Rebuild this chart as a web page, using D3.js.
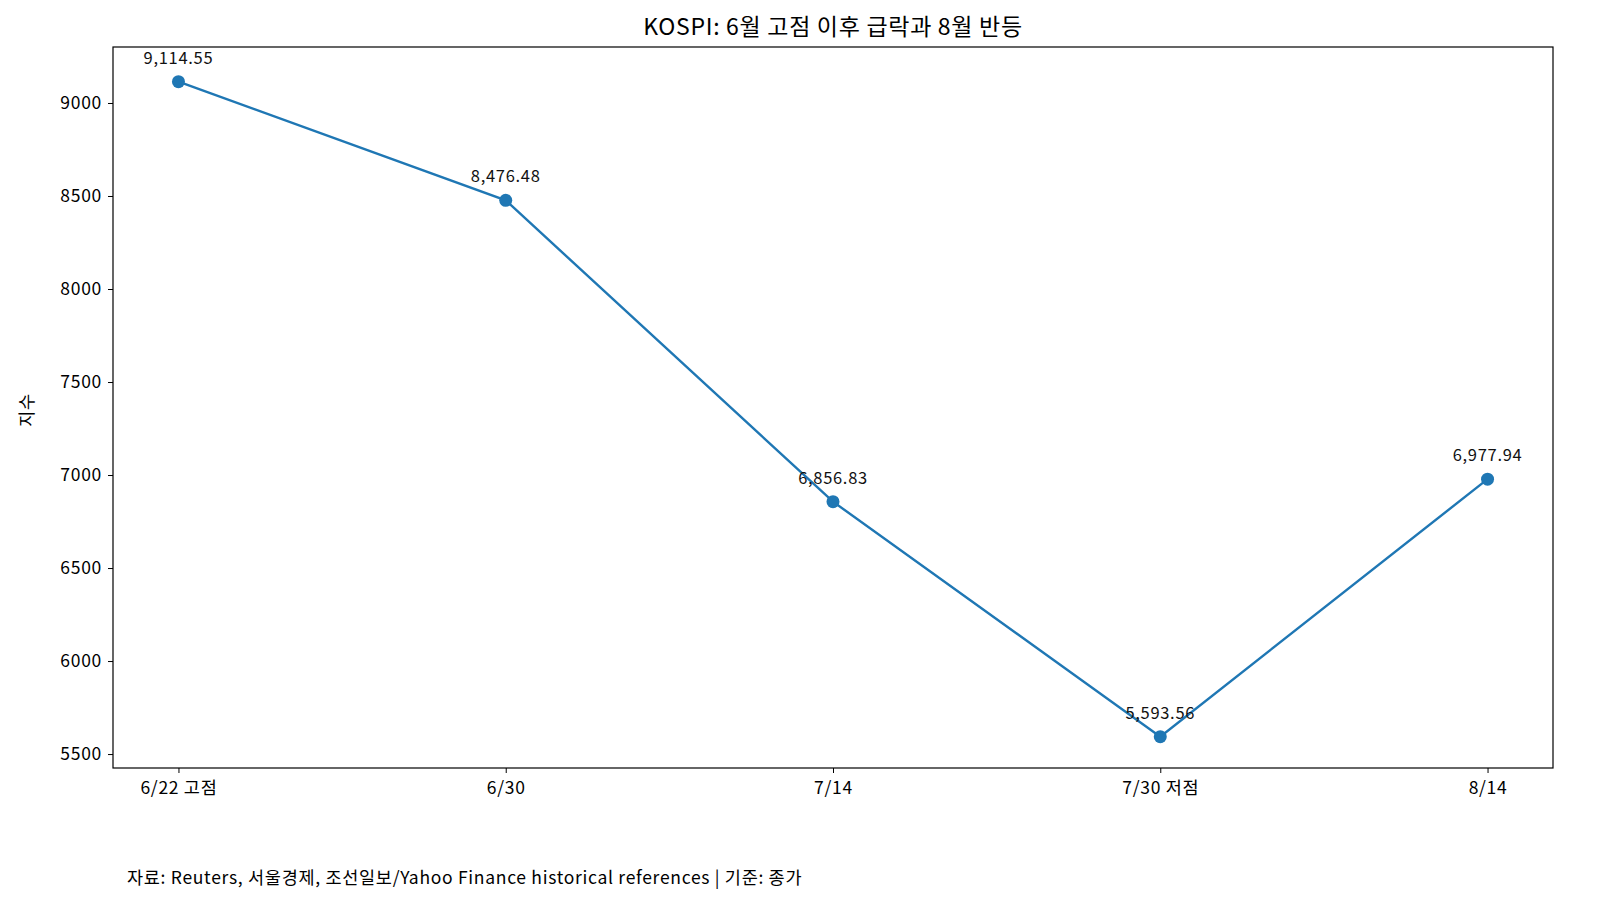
<!DOCTYPE html>
<html><head><meta charset="utf-8">
<script src="https://cdn.jsdelivr.net/npm/d3@7"></script>
<style>html,body{margin:0;background:#fff;overflow:hidden}svg{display:block}text{font-family:"Noto Sans CJK KR","Noto Sans",sans-serif;letter-spacing:0.7px}</style>
</head><body><svg id="c" width="1600" height="922"></svg>
<script>
const categories=["6/22 고점","6/30","7/14","7/30 저점","8/14"];
const values=[9114.55,8476.48,6856.83,5593.56,6977.94];
const yTicks=[5500,6000,6500,7000,7500,8000,8500,9000];
const svg=d3.select("#c");
const L=113,R=1553,T=47,B=768;
const x=d3.scaleLinear().domain([-0.2,4.2]).range([L,R]);
const y=d3.scaleLinear().domain([5425,9301]).range([B,T]);
const c="#1f77b4";
svg.append("rect").attr("x",L).attr("y",T).attr("width",R-L).attr("height",B-T).attr("fill","none").attr("stroke","#000").attr("stroke-width",1.2);
const xa=svg.append("g").attr("transform",`translate(0,${B})`).call(d3.axisBottom(x).tickValues(d3.range(5)).tickFormat(i=>categories[i]).tickSize(5).tickPadding(9));
const ya=svg.append("g").attr("transform",`translate(${L},0)`).call(d3.axisLeft(y).tickValues(yTicks).tickFormat(d3.format("d")).tickSize(5).tickPadding(6));
[xa,ya].forEach(a=>{a.select(".domain").remove();a.selectAll("text").attr("font-size",17.5).attr("fill","#000");a.selectAll("line").attr("stroke","#000");});
svg.append("path").datum(values).attr("fill","none").attr("stroke",c).attr("stroke-width",2.4)
 .attr("d",d3.line().x((d,i)=>x(i)).y(d=>y(d)));
svg.selectAll("circle").data(values).join("circle").attr("cx",(d,i)=>x(i)).attr("cy",d=>y(d)).attr("r",6.5).attr("fill",c);
svg.selectAll(".lab").data(values).join("text").attr("x",(d,i)=>x(i)).attr("y",d=>y(d)-18).attr("text-anchor","middle").attr("font-size",16.5).attr("fill","#111").text(d3.format(",.2f"));
svg.append("text").attr("x",833).attr("y",35).attr("text-anchor","middle").attr("font-size",23).text("KOSPI: 6월 고점 이후 급락과 8월 반등");
svg.append("text").attr("transform","translate(33,410) rotate(-90)").attr("text-anchor","middle").attr("font-size",17.5).text("지수");
svg.append("text").attr("x",127).attr("y",884).attr("font-size",17.5).text("자료: Reuters, 서울경제, 조선일보/Yahoo Finance historical references | 기준: 종가");
</script></body></html>
